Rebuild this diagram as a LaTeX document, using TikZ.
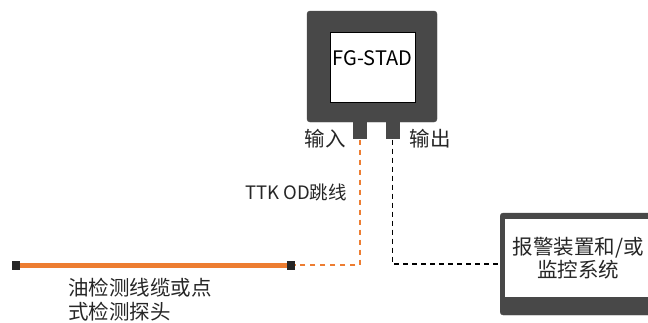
\documentclass[tikz,border=0pt]{standalone}
\usepackage{fontspec}
\setmainfont{Noto Sans CJK SC}
\usetikzlibrary{positioning,calc}
\definecolor{devgray}{RGB}{72,72,72}
\definecolor{cableorange}{RGB}{237,125,49}
\tikzset{
frame/.style = {draw=devgray, fill=devgray, rounded corners=3pt, inner sep=0pt},
panel/.style = {draw=black, line width=0.6pt, fill=white, inner sep=0pt, align=center},
port/.style = {fill=devgray, inner sep=0pt, minimum width=14pt, minimum height=17pt},
endcap/.style = {fill=black!85, inner sep=0pt, minimum width=8pt, minimum height=9pt},
txt/.style = {inner sep=0pt, text=black!85, font=\fontsize{20.5}{23.5}\selectfont},
cable/.style = {draw=cableorange, line width=5pt},
jumper/.style = {draw=cableorange, line width=1.6pt, dash pattern=on 5pt off 5pt},
signal/.style = {draw=black, line width=1.6pt, dash pattern=on 5pt off 4pt}
}
\begin{document}
\begin{tikzpicture}[x=1pt, y=-1pt]
    \useasboundingbox (0,0) rectangle (648,322);
    % device
    \node [frame, minimum width=130pt, minimum height=111pt] (device) at (372,66.5) {};
    \node [panel, txt, font=\fontsize{20}{24}\selectfont, text=black, minimum width=85pt, text height=33pt, text depth=37pt] (fgstad) at (372.5,67) {FG-STAD};
    \node [port, anchor=north] (inport) at ([xshift=-12pt]device.south) {};
    \node [port, anchor=north] (outport) at ([xshift=20.5pt]device.south) {};
    \node [txt] (inlabel) at (325,139) {输入};
    \node [txt] (outlabel) at (430,139) {输出};
    % sensing cable
    \node [endcap] (lend) at (16,265) {};
    \node [endcap] (rend) at (291,265) {};
    \draw [cable] (lend.east) -- (rend.west);
    \node [txt, align=left, anchor=north west] (probe) at (68,278) {油检测线缆或点\\式检测探头};
    \node [txt, font=\fontsize{18.5}{21}\selectfont, anchor=east] (jumperlabel) at (347,192) {TTK OD跳线};
    % alarm / monitoring
    \node [frame, minimum width=160pt, minimum height=102pt, anchor=west] (alarm) at (500,264) {};
    \node [fill=white, txt, align=center, minimum width=146pt, minimum height=78pt, anchor=north west] (monitor) at (505,219) {报警装置和/或\\监控系统};
    % connections
    \draw [jumper] (inport.south) |- (rend.east);
    \draw [signal] (outport.south) |- (alarm.west);
\end{tikzpicture}
\end{document}
